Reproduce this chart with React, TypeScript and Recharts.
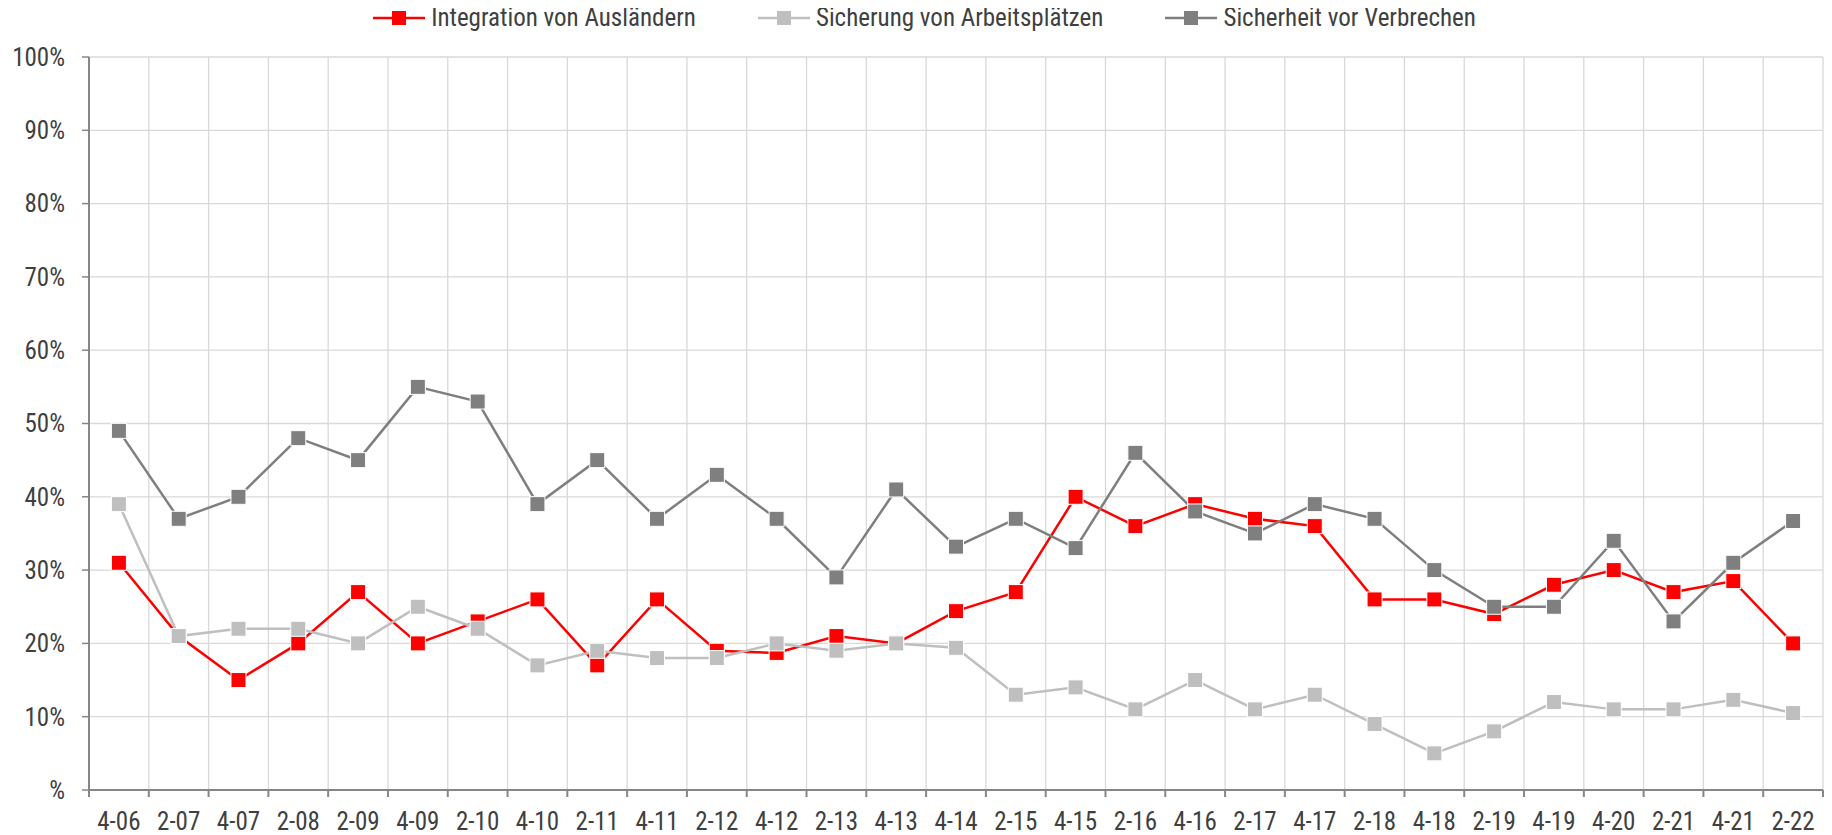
import { LineChart, Line, XAxis, YAxis, CartesianGrid, Legend } from "recharts";

const periods = [
  "4-06", "2-07", "4-07", "2-08", "2-09", "4-09", "2-10", "4-10", "2-11", "4-11",
  "2-12", "4-12", "2-13", "4-13", "4-14", "2-15", "4-15", "2-16", "4-16", "2-17",
  "4-17", "2-18", "4-18", "2-19", "4-19", "4-20", "2-21", "4-21", "2-22",
];
const integration = [
  31, 21, 15, 20, 27, 20, 23, 26, 17, 26,
  19, 18.7, 21, 20, 24.4, 27, 40, 36, 39, 37,
  36, 26, 26, 24, 28, 30, 27, 28.5, 20,
];
const arbeitsplaetze = [
  39, 21, 22, 22, 20, 25, 22, 17, 19, 18,
  18, 20, 19, 20, 19.4, 13, 14, 11, 15, 11,
  13, 9, 5, 8, 12, 11, 11, 12.3, 10.5,
];
const verbrechen = [
  49, 37, 40, 48, 45, 55, 53, 39, 45, 37,
  43, 37, 29, 41, 33.2, 37, 33, 46, 38, 35,
  39, 37, 30, 25, 25, 34, 23, 31, 36.7,
];
const yTicks = [0, 10, 20, 30, 40, 50, 60, 70, 80, 90, 100];

const series = [
  { key: "integration", name: "Integration von Ausländern", color: "#FF0000" },
  { key: "arbeit", name: "Sicherung von Arbeitsplätzen", color: "#BFBFBF" },
  { key: "verbrechen", name: "Sicherheit vor Verbrechen", color: "#7F7F7F" },
];

const data = periods.map((p, i) => ({
  period: p,
  integration: integration[i],
  arbeit: arbeitsplaetze[i],
  verbrechen: verbrechen[i],
}));

const FONT = "'Liberation Sans Narrow', 'Arial Narrow', 'Roboto Condensed', 'Liberation Sans', sans-serif";
const TEXT = "#404040";
const AXIS = "#868686";
const GRID = "#D9D9D9";

const WIDTH = 1824;
const HEIGHT = 827;
const Y_W = 81;
const MARGIN = { top: 15, right: 9, bottom: 0, left: 0 };
const PLOT_W = WIDTH - Y_W - MARGIN.left - MARGIN.right;
const STEP = PLOT_W / periods.length;
const TICK = 7;
const X_GAP = 15;

function squareDot(color: string) {
  return (props: any) => {
    const { cx, cy, index } = props;
    if (cx == null || cy == null) return <g key={index} />;
    return (
      <rect
        key={index}
        x={cx - 7.5}
        y={cy - 7.5}
        width={15}
        height={15}
        fill={color}
        stroke="#ffffff"
        strokeWidth={1}
      />
    );
  };
}

function XTick(props: any) {
  const { x, y, payload, index } = props;
  const axisY = y - TICK - X_GAP;
  const last = index === periods.length - 1;
  return (
    <g>
      <line x1={x - STEP / 2} x2={x - STEP / 2} y1={axisY} y2={axisY + TICK} stroke={AXIS} strokeWidth={2} />
      {last && (
        <line x1={x + STEP / 2} x2={x + STEP / 2} y1={axisY} y2={axisY + TICK} stroke={AXIS} strokeWidth={2} />
      )}
      <text x={x} y={y} dy="0.71em" textAnchor="middle" fill={TEXT} fontSize={25} fontFamily={FONT}>
        {payload.value}
      </text>
    </g>
  );
}

// legend drawn in series order (recharts would sort by name otherwise)
function LegendContent() {
  return (
    <div
      style={{
        display: "flex",
        justifyContent: "center",
        gap: 62,
        height: 34,
        paddingLeft: 18,
        fontFamily: FONT,
        fontSize: 25,
        lineHeight: "20px",
        color: TEXT,
      }}
    >
      {series.map((s) => (
        <div key={s.key} style={{ display: "flex", alignItems: "center", height: 20 }}>
          <svg width={52} height={20}>
            <line x1={0} x2={52} y1={10} y2={10} stroke={s.color} strokeWidth={2.5} />
            <rect x={19} y={3} width={14} height={14} fill={s.color} />
          </svg>
          <span style={{ marginLeft: 6 }}>{s.name}</span>
        </div>
      ))}
    </div>
  );
}

export default function App() {
  return (
    <LineChart width={WIDTH} height={HEIGHT} data={data} margin={MARGIN}>
      <CartesianGrid
        stroke={GRID}
        strokeWidth={1.3}
        verticalCoordinatesGenerator={({ offset }: any) =>
          Array.from({ length: periods.length + 1 }, (_, i) => offset.left + (i * offset.width) / periods.length)
        }
      />
      <XAxis
        dataKey="period"
        scale="band"
        interval={0}
        height={45}
        tickSize={TICK}
        tickMargin={X_GAP}
        tickLine={false}
        tick={<XTick />}
        axisLine={{ stroke: AXIS, strokeWidth: 2 }}
      />
      <YAxis
        width={Y_W}
        domain={[0, 100]}
        ticks={yTicks}
        interval={0}
        tickSize={TICK}
        tickMargin={17}
        tickFormatter={(v: number) => (v === 0 ? "%" : `${v}%`)}
        tick={{ fill: TEXT, fontSize: 25, fontFamily: FONT }}
        tickLine={{ stroke: AXIS, strokeWidth: 1.5 }}
        axisLine={{ stroke: AXIS, strokeWidth: 2 }}
      />
      <Legend verticalAlign="top" align="center" wrapperStyle={{ top: 0 }} content={<LegendContent />} />
      {series.map((s) => (
        <Line
          key={s.key}
          dataKey={s.key}
          name={s.name}
          stroke={s.color}
          strokeWidth={2.5}
          dot={squareDot(s.color)}
          activeDot={false}
          isAnimationActive={false}
        />
      ))}
    </LineChart>
  );
}
